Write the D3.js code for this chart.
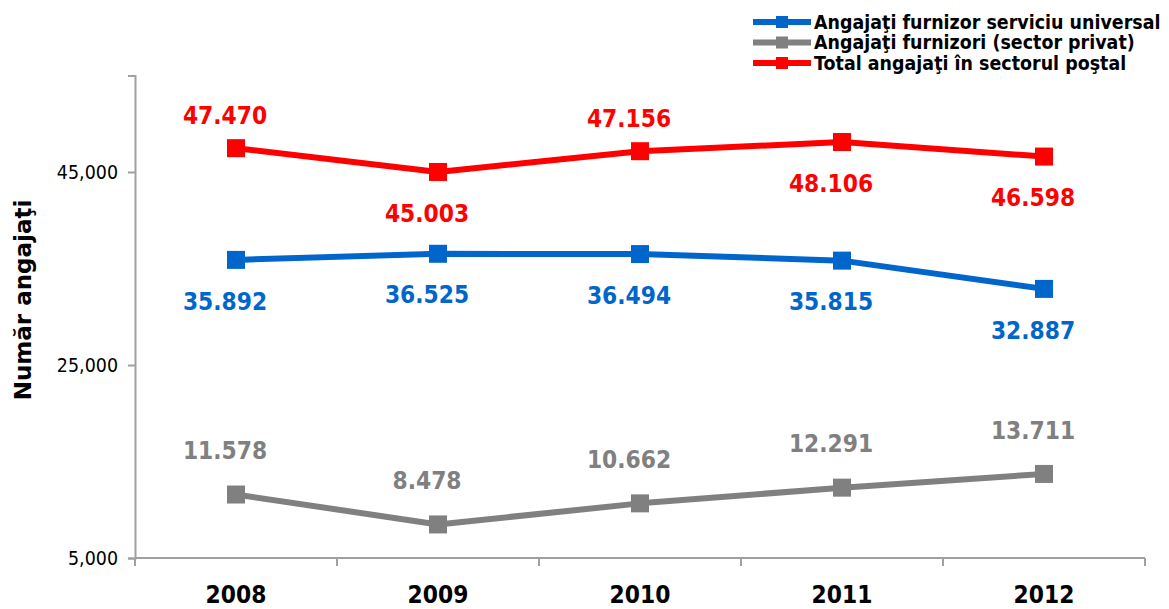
<!DOCTYPE html>
<html><head><meta charset="utf-8">
<script src="https://cdn.jsdelivr.net/npm/d3@7"></script>
<style>body{margin:0;background:#fff}svg{display:block}text{font-family:"DejaVu Sans",Verdana,sans-serif}</style>
</head><body>
<svg id="c" width="1169" height="609"></svg>
<script>
const years = ["2008","2009","2010","2011","2012"];
const universal = [35892, 36525, 36494, 35815, 32887];
const privat = [11578, 8478, 10662, 12291, 13711];
const total = [47470, 45003, 47156, 48106, 46598];
const universalLabels = ["35.892","36.525","36.494","35.815","32.887"];
const privatLabels = ["11.578","8.478","10.662","12.291","13.711"];
const totalLabels = ["47.470","45.003","47.156","48.106","46.598"];
const yTicks = [5000, 25000, 45000];
const seriesNames = ["Angajaţi furnizor serviciu universal","Angajaţi furnizori (sector privat)","Total angajaţi în sectorul poştal"];
const totalLabelSide = ["above","below","above","below","below"];

(function(){
const svg = d3.select("#c");
const mLeft = 135, mRight = 1145, mTop = 75.5, mBottom = 558;
const x = d3.scaleBand().domain(years).range([mLeft, mRight]);
const y = d3.scaleLinear().domain([5000, 55000]).range([mBottom, mTop]);
const cx = d => x(d) + x.bandwidth()/2;
const SX = 0.91; // narrow horizontally to mimic Tahoma proportions

// Y axis
const yAxis = svg.append("g").attr("transform",`translate(${mLeft},0)`)
  .call(d3.axisLeft(y).tickValues(yTicks).tickFormat(d3.format(",")).tickSize(7).tickPadding(10));
yAxis.select(".domain").attr("stroke","#a0a0a0").attr("stroke-width",2);
yAxis.selectAll(".tick line").attr("stroke","#a0a0a0").attr("stroke-width",2);
yAxis.selectAll(".tick text").attr("font-size",19).attr("fill","#000").style("font-family","DejaVu Sans")
  .attr("x",null).attr("transform","translate(-17,0) scale(0.92,1)");

// X axis
const xg = svg.append("g").attr("transform",`translate(0,${mBottom})`);
xg.append("line").attr("x1",mLeft).attr("x2",mRight).attr("stroke","#a0a0a0").attr("stroke-width",2);
const bounds = years.map(d => x(d)).concat([mRight]);
xg.selectAll("line.t").data(bounds).join("line").attr("class","t")
  .attr("x1",d=>d).attr("x2",d=>d).attr("y1",0).attr("y2",8).attr("stroke","#a0a0a0").attr("stroke-width",2);
xg.selectAll("text").data(years).join("text")
  .attr("transform",d=>`translate(${cx(d)},45) scale(${SX},1)`).attr("text-anchor","middle")
  .attr("font-size",24).attr("font-weight","bold").text(d=>d);

// Y title
svg.append("text").attr("transform","translate(31,300) rotate(-90)")
  .attr("text-anchor","middle").attr("font-size",23).attr("font-weight","bold").text("Număr angajaţi");

const series = [
  {vals: universal, labels: universalLabels, color:"#0066cc", side: years.map(()=>"below")},
  {vals: privat, labels: privatLabels, color:"#808080", side: years.map(()=>"above")},
  {vals: total, labels: totalLabels, color:"#ff0000", side: totalLabelSide}
];
const line = d3.line().x((d,i)=>cx(years[i])).y(d=>y(d));
series.forEach((s,si) => {
  svg.append("path").attr("d", line(s.vals)).attr("fill","none")
    .attr("stroke", s.color).attr("stroke-width",6).attr("stroke-linejoin","round");
  svg.selectAll(null).data(s.vals).join("rect")
    .attr("x",(d,i)=>cx(years[i])-9).attr("y",d=>y(d)-9).attr("width",18).attr("height",18)
    .attr("fill", s.color);
  const aboveOff = si===1 ? -44 : -33;
  svg.selectAll(null).data(s.vals).join("text")
    .attr("transform",(d,i)=>`translate(${cx(years[i])-11},${y(d) + (s.side[i]==="above" ? aboveOff : 41)}) scale(${SX},1)`)
    .attr("dy","0.36em").attr("text-anchor","middle")
    .attr("font-size",24).attr("font-weight","bold").attr("fill", s.color)
    .text((d,i)=>s.labels[i]);
});

// Legend
const legColors = ["#0066cc","#808080","#ff0000"];
const lg = svg.append("g");
seriesNames.forEach((n,i) => {
  const ly = 22 + i*20.5;
  lg.append("line").attr("x1",753).attr("x2",811).attr("y1",ly).attr("y2",ly)
    .attr("stroke",legColors[i]).attr("stroke-width",6);
  lg.append("rect").attr("x",776).attr("y",ly-6).attr("width",12).attr("height",12).attr("fill",legColors[i]);
  lg.append("text").attr("transform",`translate(814,${ly}) scale(0.92,1)`).attr("dy","0.36em")
    .attr("font-size",19).attr("font-weight","bold").text(n);
});
})();
</script>
</body></html>
